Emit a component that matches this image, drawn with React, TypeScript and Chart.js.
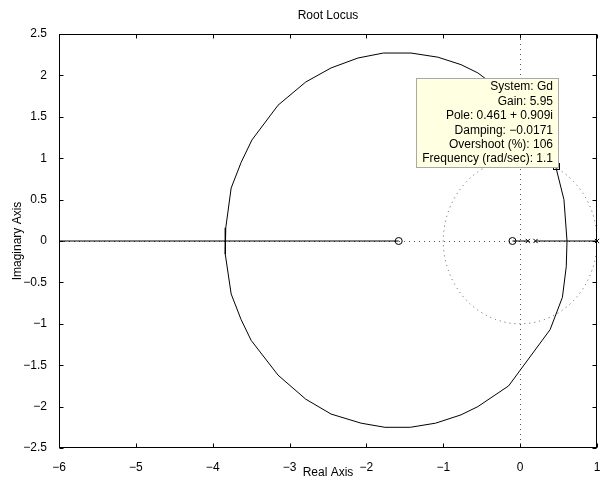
import React, { useEffect, useRef } from 'react';
import { Chart, registerables } from 'chart.js';

Chart.register(...registerables);

const TITLE = 'Root Locus';
const X_LABEL = 'Real Axis';
const Y_LABEL = 'Imaginary Axis';
const X_TICKS = [-6, -5, -4, -3, -2, -1, 0, 1];
const Y_TICKS = [-2.5, -2, -1.5, -1, -0.5, 0, 0.5, 1, 1.5, 2, 2.5];

// upper branch (breakaway near 0.61 -> break-in near -3.84)
const upperX = [0.61, 0.57, 0.468, 0.25, -0.15, -0.55, -0.77, -1.07, -1.42, -1.78, -2.11, -2.46, -2.79, -3.15, -3.49, -3.63, -3.76, -3.83, -3.84];
const upperY = [0, 0.5, 0.88, 1.3, 1.75, 2.03, 2.13, 2.22, 2.27, 2.27, 2.21, 2.09, 1.92, 1.64, 1.22, 0.95, 0.64, 0.16, 0];
// lower branch (break-in -3.84 -> breakaway 0.61)
const lowerX = [-3.84, -3.83, -3.76, -3.63, -3.5, -3.15, -2.79, -2.46, -2.07, -1.76, -1.43, -1.1, -0.77, -0.55, -0.15, 0.39, 0.55, 0.6, 0.61];
const lowerY = [0, -0.16, -0.64, -0.95, -1.2, -1.62, -1.91, -2.09, -2.2, -2.25, -2.25, -2.2, -2.1, -2.0, -1.75, -1.07, -0.68, -0.31, 0];

const realSegStart = [-6, -0.1, 0.2];
const realSegEnd = [-1.58, 0.1, 1];
const zerosX = [-1.58, -0.1];
const polesX = [0.1, 0.2, 1];

const tipX = 0.461;
const tipY = 0.909;
const tipLines = [
  'System: Gd',
  'Gain: 5.95',
  'Pole: 0.461 + 0.909i',
  'Damping: \u22120.0171',
  'Overshoot (%): 106',
  'Frequency (rad/sec): 1.1',
];

const FONT_FAMILY = '"Liberation Sans", Arial, Helvetica, sans-serif';
const FONT = '12px ' + FONT_FAMILY;

const fmt = (v: number) => String(v).replace('-', '\u2212');

const overlay = {
  id: 'matlabOverlay',
  beforeDatasetsDraw(chart: any) {
    const { ctx, chartArea: a, scales } = chart;
    const xs = scales.x, ys = scales.y;
    ctx.save();
    ctx.beginPath();
    ctx.rect(a.left, a.top, a.right - a.left, a.bottom - a.top);
    ctx.clip();
    ctx.strokeStyle = '#555';
    ctx.lineWidth = 1;
    ctx.setLineDash([1, 4]);
    const x0 = xs.getPixelForValue(0);
    const y0 = ys.getPixelForValue(0);
    ctx.beginPath();
    ctx.moveTo(a.left, Math.round(y0) + 0.5);
    ctx.lineTo(a.right, Math.round(y0) + 0.5);
    ctx.stroke();
    ctx.beginPath();
    ctx.moveTo(Math.round(x0) + 0.5, a.top);
    ctx.lineTo(Math.round(x0) + 0.5, a.bottom);
    ctx.stroke();
    const rx = xs.getPixelForValue(1) - x0;
    const ry = y0 - ys.getPixelForValue(1);
    ctx.beginPath();
    ctx.ellipse(x0, y0, rx, ry, 0, 0, Math.PI * 2);
    ctx.stroke();
    ctx.restore();
  },
  afterDraw(chart: any) {
    const { ctx, chartArea: a, scales } = chart;
    const xs = scales.x, ys = scales.y;
    ctx.save();
    // frame
    ctx.strokeStyle = '#000';
    ctx.lineWidth = 1;
    ctx.setLineDash([]);
    const L = Math.round(a.left) + 0.5, R = Math.round(a.right) - 0.5;
    const T = Math.round(a.top) + 0.5, B = Math.round(a.bottom) - 0.5;
    ctx.strokeRect(L, T, R - L, B - T);
    // inward ticks
    const tl = 4;
    ctx.beginPath();
    X_TICKS.forEach((v) => {
      const p = Math.round(xs.getPixelForValue(v)) + 0.5;
      ctx.moveTo(p, B); ctx.lineTo(p, B - tl);
      ctx.moveTo(p, T); ctx.lineTo(p, T + tl);
    });
    Y_TICKS.forEach((v) => {
      const p = Math.round(ys.getPixelForValue(v)) + 0.5;
      ctx.moveTo(L, p); ctx.lineTo(L + tl, p);
      ctx.moveTo(R, p); ctx.lineTo(R - tl, p);
    });
    ctx.stroke();

    // data tip marker
    const px = xs.getPixelForValue(tipX);
    const py = ys.getPixelForValue(tipY);
    ctx.strokeRect(Math.round(px) - 2.5, Math.round(py) - 2.5, 6, 6);

    // data tip box
    ctx.font = FONT;
    let w = 0;
    tipLines.forEach((s) => { w = Math.max(w, ctx.measureText(s).width); });
    const lineH = 14.4;
    const bw = Math.round(w + 12);
    const bh = Math.round(18 + lineH * (tipLines.length - 1));
    const br = Math.round(px) + 3;
    const bb = Math.round(py) + 2;
    const bl = br - bw, bt = bb - bh;
    ctx.fillStyle = '#ffffe1';
    ctx.fillRect(bl, bt, bw, bh);
    ctx.strokeStyle = '#a8a8a8';
    ctx.strokeRect(bl + 0.5, bt + 0.5, bw - 1, bh - 1);
    ctx.fillStyle = '#000';
    ctx.textAlign = 'right';
    ctx.textBaseline = 'middle';
    tipLines.forEach((s, i) => {
      ctx.fillText(s, br - 6, bt + 9 + i * lineH);
    });

    // titles
    ctx.textAlign = 'center';
    ctx.textBaseline = 'middle';
    const cx = (a.left + a.right) / 2;
    ctx.fillText(TITLE, cx, 16);
    ctx.fillText(X_LABEL, cx, 473);
    ctx.translate(18, (a.top + a.bottom) / 2);
    ctx.rotate(-Math.PI / 2);
    ctx.fillText(Y_LABEL, 0, 0);
    ctx.restore();
  },
};

export default function App() {
  const ref = useRef<HTMLCanvasElement | null>(null);
  useEffect(() => {
    document.body.style.margin = '0';
    const canvas = ref.current;
    if (!canvas) return;
    const locus = [
      ...upperX.map((x, i) => ({ x, y: upperY[i] })),
      ...lowerX.map((x, i) => ({ x, y: lowerY[i] })),
    ];
    const segDatasets = realSegStart.map((s, i) => ({
      data: [{ x: s, y: 0 }, { x: realSegEnd[i], y: 0 }],
      showLine: true,
      borderColor: '#000',
      borderWidth: 1,
      pointRadius: 0,
      tension: 0,
    }));
    const chart = new Chart(canvas, {
      type: 'scatter',
      data: {
        datasets: [
          {
            data: locus,
            showLine: true,
            borderColor: '#000',
            borderWidth: 1,
            pointRadius: 0,
            tension: 0,
          },
          ...segDatasets,
          {
            data: zerosX.map((x) => ({ x, y: 0 })),
            pointStyle: 'circle',
            pointRadius: 3.5,
            borderColor: '#000',
            backgroundColor: 'rgba(0,0,0,0)',
            borderWidth: 1,
          },
          {
            data: polesX.map((x) => ({ x, y: 0 })),
            pointStyle: 'crossRot',
            pointRadius: 3,
            borderColor: '#000',
            borderWidth: 1,
          },
        ] as any,
      },
      options: {
        animation: false,
        responsive: false,
        clip: false as any,
        layout: { padding: { top: 34, right: 2, left: 0, bottom: 0 } },
        plugins: { legend: { display: false }, tooltip: { enabled: false }, title: { display: false } },
        events: [],
        scales: {
          x: {
            type: 'linear',
            min: -6,
            max: 1,
            grid: { display: false },
            border: { display: false },
            afterBuildTicks: (s: any) => { s.ticks = X_TICKS.map((v) => ({ value: v })); },
            afterFit: (s: any) => { s.height = 33; s.paddingLeft = 0; s.paddingRight = 0; },
            ticks: {
              color: '#000',
              padding: 4,
              maxRotation: 0,
              font: { family: FONT_FAMILY, size: 12 },
              callback: (v: any) => fmt(Number(v)),
            },
          },
          y: {
            type: 'linear',
            min: -2.5,
            max: 2.5,
            grid: { display: false },
            border: { display: false },
            afterBuildTicks: (s: any) => { s.ticks = Y_TICKS.map((v) => ({ value: v })); },
            afterFit: (s: any) => { s.width = 59; s.paddingTop = 0; s.paddingBottom = 0; },
            ticks: {
              color: '#000',
              padding: 4,
              font: { family: FONT_FAMILY, size: 12 },
              callback: (v: any) => fmt(Number(v)),
            },
          },
        },
      } as any,
      plugins: [overlay],
    });
    return () => chart.destroy();
  }, []);
  return (
    <div style={{ position: 'absolute', left: 0, top: 0, width: 602, height: 481, background: '#fff' }}>
      <canvas ref={ref} width={602} height={481} style={{ width: 602, height: 481, display: 'block' }} />
    </div>
  );
}
